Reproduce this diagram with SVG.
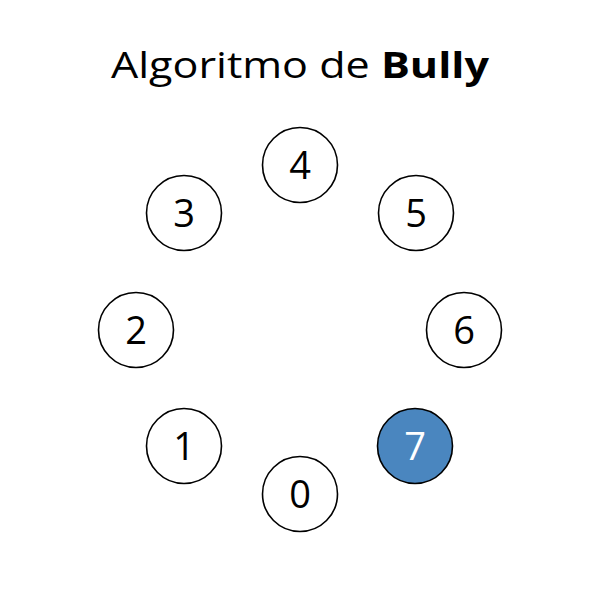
<svg xmlns="http://www.w3.org/2000/svg" width="600" height="600" viewBox="0 0 600 600">
<style>
.n circle{fill:#fff;stroke:#000;stroke-width:1.6}
.n text{font-family:"Open Sans","Noto Sans",sans-serif;font-size:38px;text-anchor:middle;fill:#000}
.n.leader circle{fill:#4a86bf}
.n.leader text{fill:#fff}
.title{font-family:"Open Sans","Noto Sans",sans-serif;font-size:36px;text-anchor:middle;fill:#000}
</style>
<rect width="600" height="600" fill="#fff"/>
<text class="title" x="300" y="78" textLength="378" lengthAdjust="spacingAndGlyphs">Algoritmo de <tspan font-weight="bold">Bully</tspan></text>
<g id="connectors"></g>
<g id="node4" class="n"><circle cx="300" cy="165" r="37.5"/><text x="300" y="179">4</text></g>
<g id="node5" class="n"><circle cx="416" cy="213" r="37.5"/><text x="416" y="227">5</text></g>
<g id="node6" class="n"><circle cx="464" cy="330" r="37.5"/><text x="464" y="344">6</text></g>
<g id="node7" class="n leader"><circle cx="415" cy="446" r="37.5"/><text x="415" y="460">7</text></g>
<g id="node0" class="n"><circle cx="300" cy="494" r="37.5"/><text x="300" y="508">0</text></g>
<g id="node1" class="n"><circle cx="184" cy="446" r="37.5"/><text x="184" y="460">1</text></g>
<g id="node2" class="n"><circle cx="136" cy="330" r="37.5"/><text x="136" y="344">2</text></g>
<g id="node3" class="n"><circle cx="184" cy="213" r="37.5"/><text x="184" y="227">3</text></g>
</svg>
